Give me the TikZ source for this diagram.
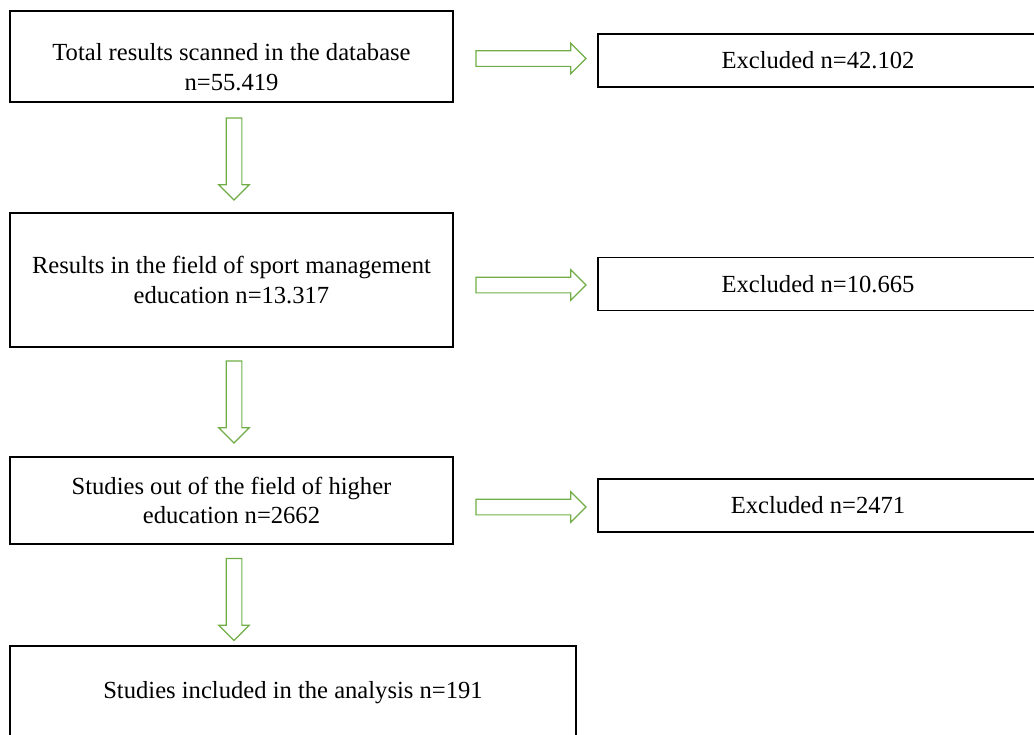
\documentclass[tikz,border=0pt]{standalone}
\usepackage{fontspec}
\setmainfont{Liberation Serif}
\usetikzlibrary{shapes.arrows}
\definecolor{arrowgreen}{RGB}{112,173,71}

\begin{document}
\begin{tikzpicture}[x=0.02cm,y=-0.02cm,
  box/.style={draw,line width=0.8pt,align=center,inner sep=0pt,
    font=\fontsize{14}{17}\selectfont},
  flowarrow/.style={single arrow,draw=arrowgreen,line width=0.7pt,
    inner sep=0.145cm,single arrow head extend=0.145cm}]
  \useasboundingbox (0,0) rectangle (1034,734);
  \clip (0,0) rectangle (1034,734);
  % left column
  \node[box,minimum width=8.86cm,minimum height=1.82cm,text height=39pt] (total) at (231.5,56.5)
    {Total results scanned in the database\\n=55.419};
  \node[box,minimum width=8.86cm,minimum height=2.68cm] (field) at (231.5,280)
    {Results in the field of sport management\\education n=13.317};
  \node[box,minimum width=8.86cm,minimum height=1.74cm] (higher) at (231.5,500.5)
    {Studies out of the field of higher\\education n=2662};
  \node[box,minimum width=11.32cm,minimum height=1.88cm] (included) at (293,693)
    {Studies included in the analysis n=191};
  % right column
  \node[box,minimum width=8.8cm,minimum height=1.06cm] (excl1) at (818,60.5) {Excluded n=42.102};
  \node[box,minimum width=8.8cm,minimum height=1.06cm] (excl2) at (818,284) {Excluded n=10.665};
  \node[box,minimum width=8.8cm,minimum height=1.06cm] (excl3) at (818,505.5) {Excluded n=2471};
  % arrows
  \node[flowarrow,minimum height=2.2cm] (right1) at (527,58.5) {};
  \node[flowarrow,minimum height=2.2cm] (right2) at (527,285) {};
  \node[flowarrow,minimum height=2.2cm] (right3) at (527,507) {};
  \node[flowarrow,minimum height=1.64cm,rotate=-90] (down1) at (234,155) {};
  \node[flowarrow,minimum height=1.64cm,rotate=-90] (down2) at (234,398) {};
  \node[flowarrow,minimum height=1.64cm,rotate=-90] (down3) at (234,595.5) {};
\end{tikzpicture}
\end{document}
